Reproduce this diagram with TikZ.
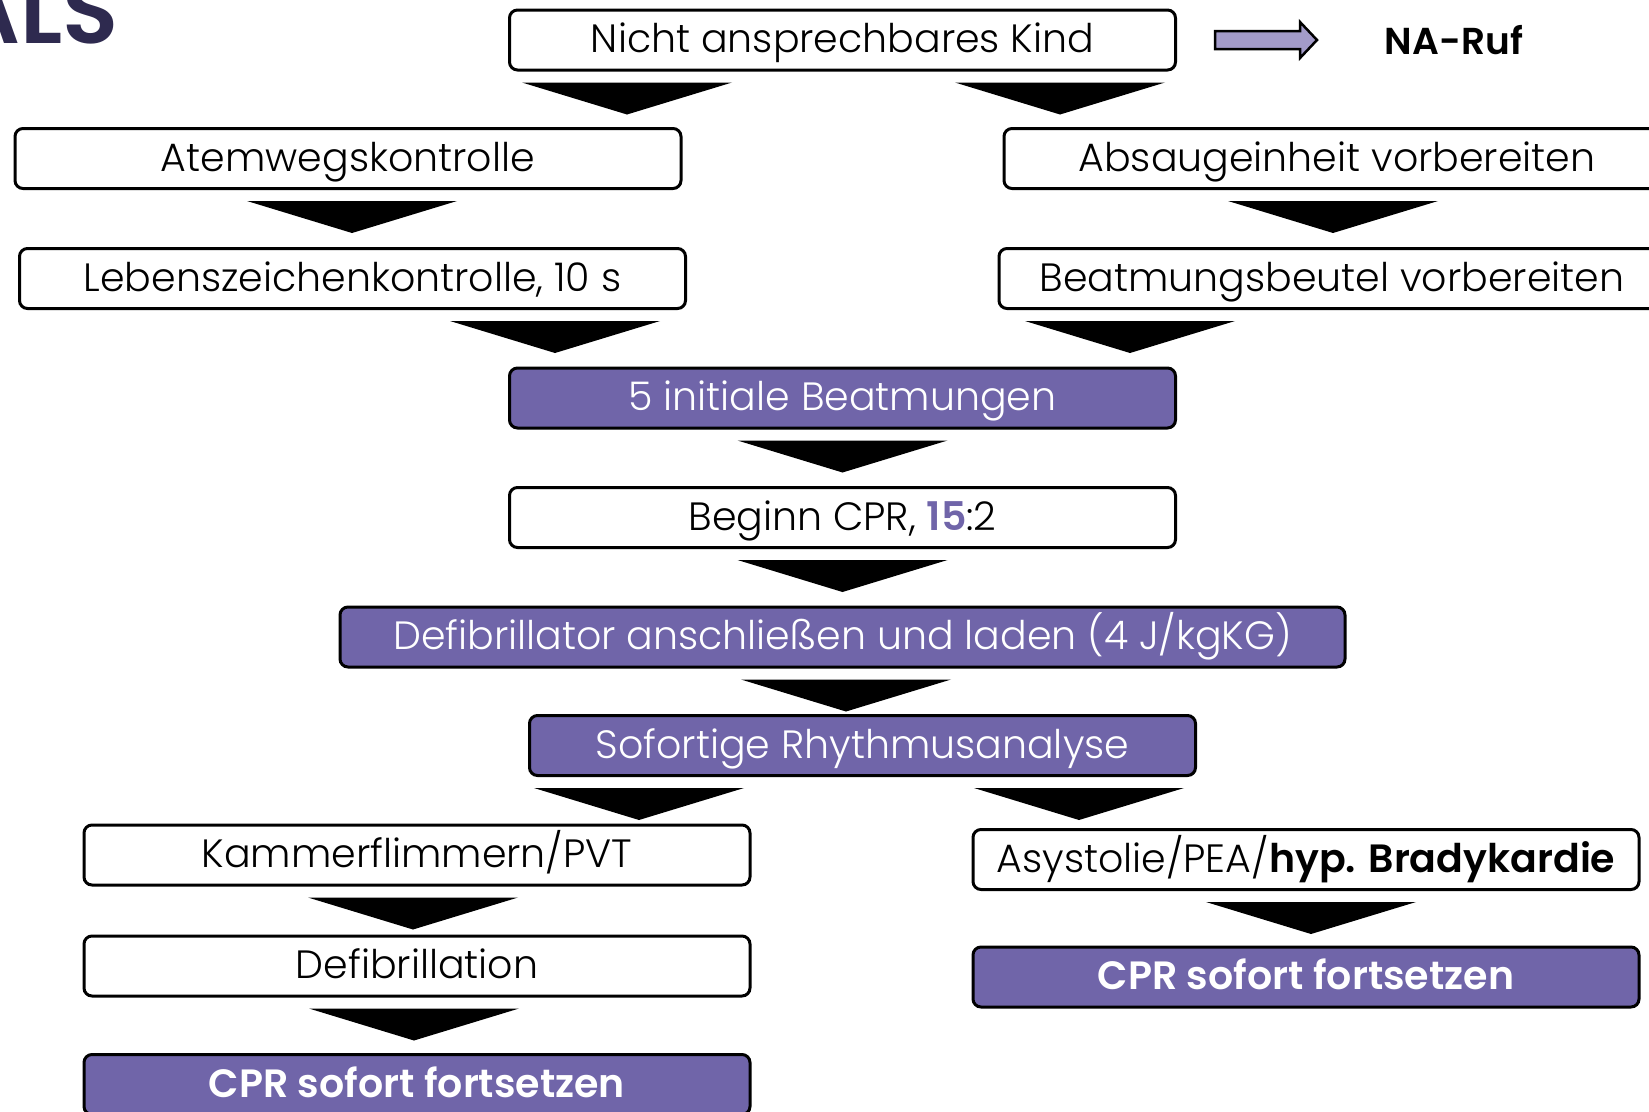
\documentclass[tikz,border=0pt]{standalone}
\usepackage{fontspec}
\setmainfont{Poppins}[UprightFont={* Light},BoldFont={* SemiBold}]
\usepackage{tikz}
\usetikzlibrary{calc}
\definecolor{cPurple}{HTML}{7065A9}
\definecolor{cLilac}{HTML}{A39BC9}
\definecolor{cNavy}{HTML}{2E2A4F}
\tikzset{
  fbox/.style={draw=black,fill=#1,rounded corners=8pt,line width=3pt,minimum width=666pt,minimum height=60pt,inner sep=0pt,align=center,text height=25pt,text depth=0pt,font=\fontsize{39.5}{42}\selectfont},
  fbox/.default=white,
  pbox/.style={fbox=cPurple,text=white},
  wbox/.style={fbox=#1,minimum width=1005pt},
  wbox/.default=cPurple,
}
% downward chevron below a node, #2 = shift of the tip from the centre
\newcommand{\downtri}[2]{\fill ($(#1.south)+(#2-105,11)$) -- ++(210,0) -- ++(-105,32) -- cycle;}

\begin{document}
\begin{tikzpicture}[x=1pt,y=-1pt]
    \clip (0,0) rectangle (1649,1111);
    \useasboundingbox (0,0) rectangle (1649,1111);
    \node[anchor=base west,text=cNavy,font=\fontsize{92}{94}\bfseries,inner sep=0pt] (als) at (-46,43) {ALS};

    \node[fbox] (kind) at (842.5,40) {Nicht ansprechbares Kind};
    \node[font=\fontsize{37.5}{40}\bfseries,inner sep=0pt,text height=27pt,text depth=0pt] (naruf) at (1454,41) {NA-Ruf};
    \coordinate (arrA) at ($(kind.east)+(38,0)$);
    \coordinate (arrB) at ($(arrA)+(102,0)$);
    \draw[line width=2.5pt,fill=cLilac,line join=miter] ($(arrA)+(0,-9)$) -- ($(arrB)+(-17,-9)$) -- ($(arrB)+(-17,-18)$) -- (arrB)
      -- ($(arrB)+(-17,18)$) -- ($(arrB)+(-17,9)$) -- ($(arrA)+(0,9)$) -- cycle;

    \node[fbox] (atem) at (348,158.5) {Atemwegskontrolle};
    \node[fbox] (absaug) at (1337,158.5) {Absaugeinheit vorbereiten};
    \node[fbox] (leben) at (352.5,278.5) {Lebenszeichenkontrolle, 10 s};
    \node[fbox] (beutel) at (1332,278.5) {Beatmungsbeutel vorbereiten};
    \node[pbox] (init) at (842.5,398) {5 initiale Beatmungen};
    \node[fbox] (cpr) at (842.5,517.5) {Beginn CPR, \textcolor{cPurple}{\textbf{15}}:2};
    \node[pbox,wbox] (defi) at (842.5,637) {Defibrillator anschließen und laden (4 J/kgKG)};
    \node[pbox] (rhythm) at (862.5,745.5) {Sofortige Rhythmusanalyse};
    \node[fbox] (kammer) at (417,855) {Kammerflimmern/PVT};
    \node[fbox] (asys) at (1306,859.5) {Asystolie/PEA/\textbf{hyp. Bradykardie}};
    \node[fbox] (defib) at (417,966) {Defibrillation};
    \node[pbox] (cprR) at (1306,977) {\textbf{CPR sofort fortsetzen}};
    \node[pbox] (cprL) at (417,1084.5) {\textbf{CPR sofort fortsetzen}};

    \downtri{kind}{-215.5} \downtri{kind}{217.5}
    \downtri{atem}{4} \downtri{absaug}{-4}
    \downtri{leben}{202.5} \downtri{beutel}{-202}
    \downtri{init}{0} \downtri{cpr}{0} \downtri{defi}{3.5}
    \downtri{rhythm}{-223.5} \downtri{rhythm}{216.5}
    \downtri{kammer}{-4} \downtri{asys}{5} \downtri{defib}{-3}
\end{tikzpicture}
\end{document}
